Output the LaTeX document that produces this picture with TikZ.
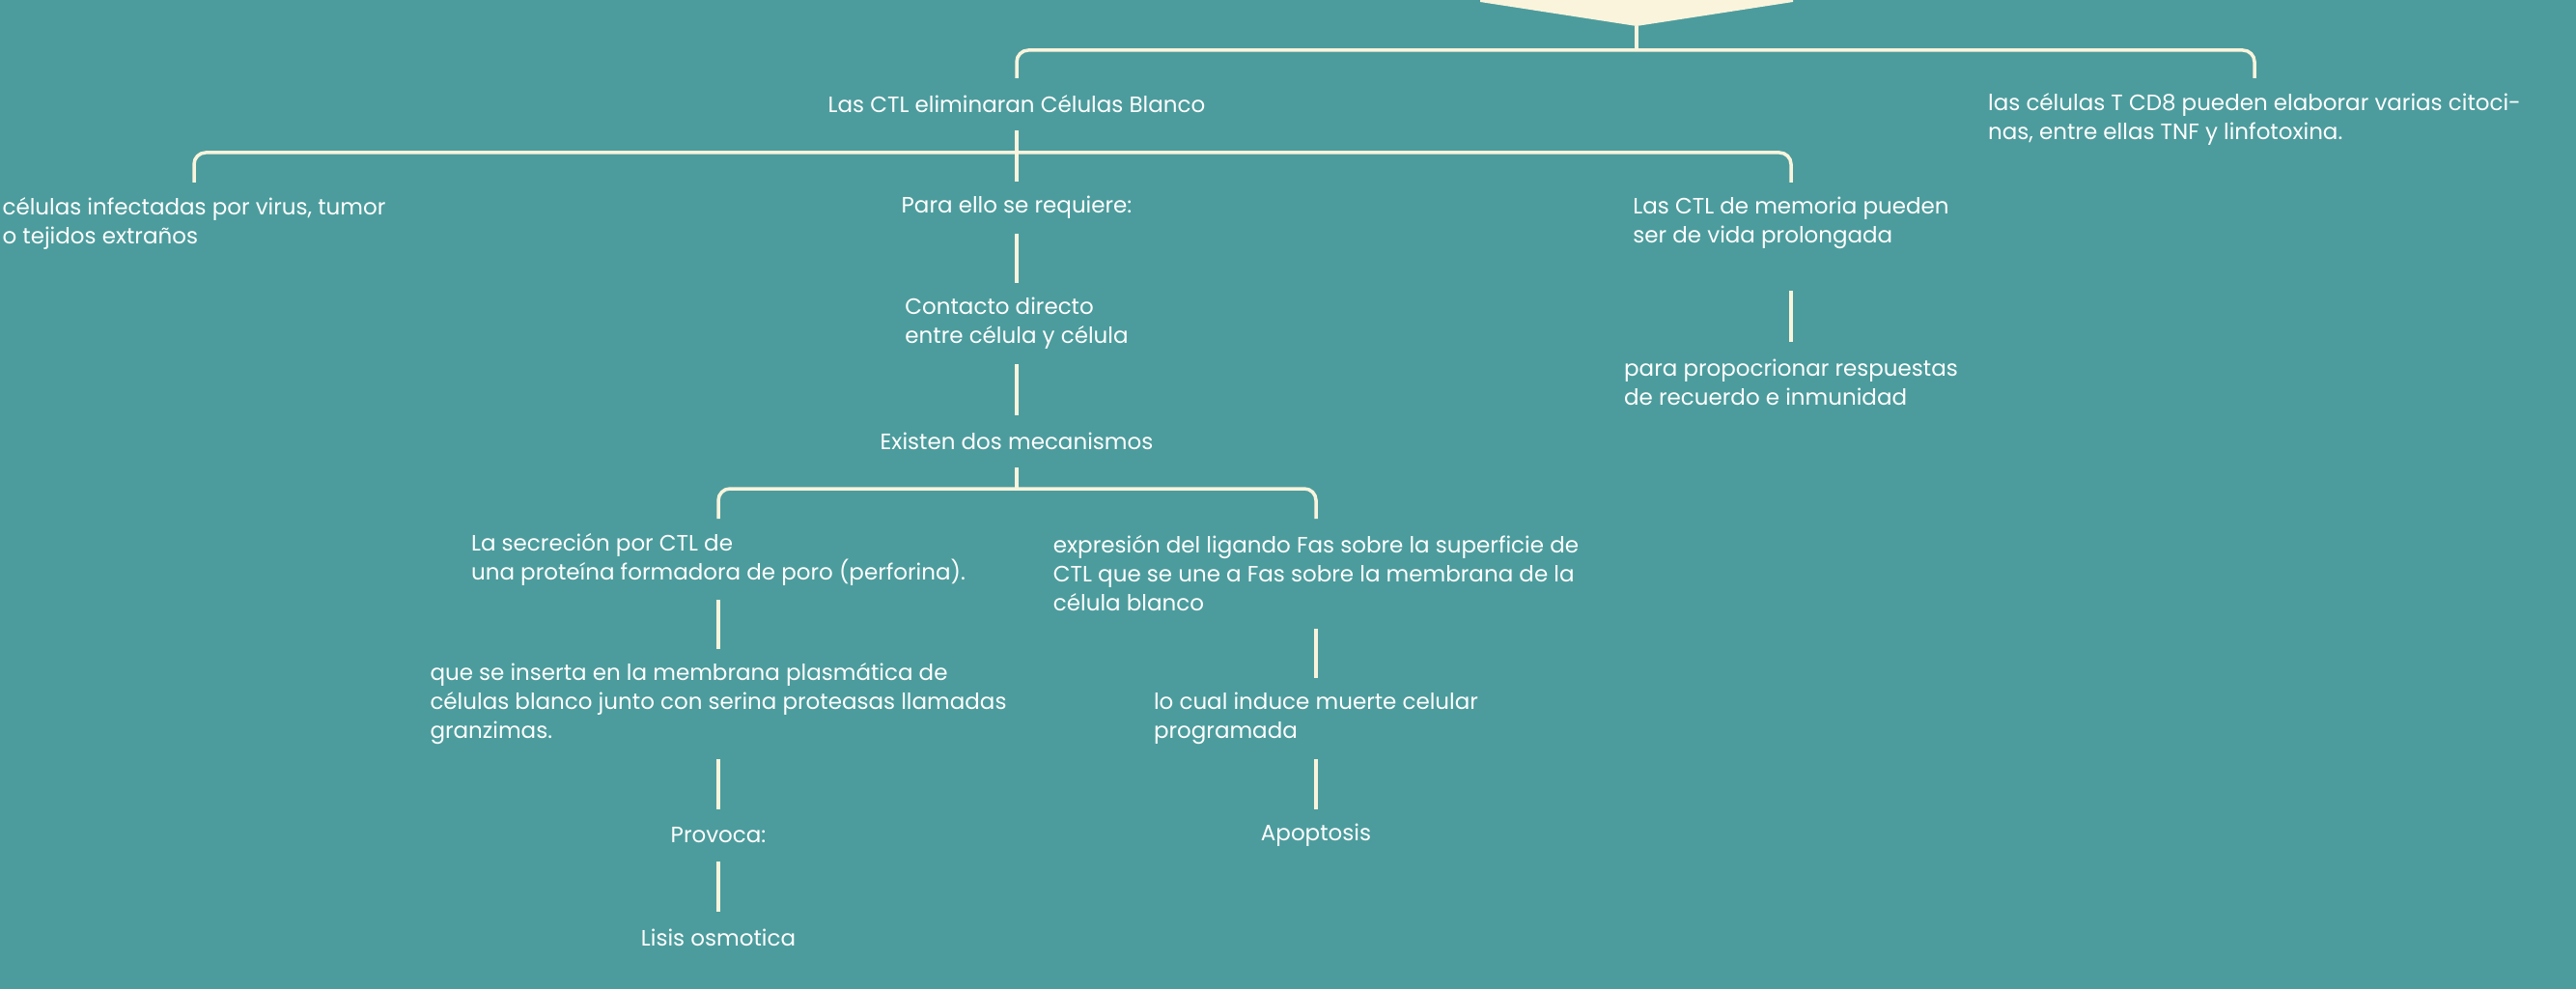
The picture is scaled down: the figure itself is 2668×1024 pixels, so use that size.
\documentclass[tikz,border=0pt]{standalone}
\usepackage{fontspec}
\setmainfont{Poppins}
\definecolor{bg}{HTML}{4C9C9D}
\definecolor{cream}{HTML}{FAF4DD}
\definecolor{txtc}{HTML}{FFFFFF}
\begin{document}
\begin{tikzpicture}[x=1pt,y=-1pt,
  txt/.style={text=txtc, font=\fontsize{23pt}{30pt}\selectfont, align=left, inner xsep=0pt, inner ysep=0pt, outer sep=0pt},
  hone/.style={txt, minimum height=54pt},
  htwo/.style={txt, minimum height=84pt},
  hthree/.style={txt, minimum height=114pt},
  conn/.style={draw=cream, line width=3.5pt},
  brace/.style={conn, rounded corners=12pt}]
\fill[bg] (0,0) rectangle (2668,1024);
\useasboundingbox (0,0) rectangle (2668,1024);
% top shape
\fill[cream] (1533,-5) -- (1533,2) -- (1695,27) -- (1857,2) -- (1857,-5) -- cycle;
\coordinate (top) at (1695,27);
\coordinate (b1) at (1695,52);
\coordinate (b2) at (1053,158);
\coordinate (b3) at (1053,506);
% nodes
\node[hone] (n1) at (1053,108) {Las CTL eliminaran Células Blanco};
\node[htwo] (n2) at (2335,123) {las células T CD8 pueden elaborar varias citoci-\\nas, entre ellas TNF y linfotoxina.};
\node[htwo] (n3) at (201,231) {células infectadas por virus, tumor\\o tejidos extraños};
\node[hone] (n4) at (1053,215) {Para ello se requiere:};
\node[htwo] (n5) at (1855,231) {Las CTL de memoria pueden\\ser de vida prolongada};
\node[htwo] (n6) at (1053,335) {Contacto directo\\entre célula y célula};
\node[htwo] (n7) at (1855,396) {para propocrionar respuestas\\de recuerdo e inmunidad};
\node[hone] (n8) at (1053,457) {Existen dos mecanismos};
\node[htwo] (n9) at (744,579) {La secreción por CTL de\\una proteína formadora de poro (perforina).};
\node[hthree] (n10) at (1363,594) {expresión del ligando Fas sobre la superficie de\\CTL que se une a Fas sobre la membrana de la\\célula blanco};
\node[hthree] (n11) at (744,729) {que se inserta en la membrana plasmática de\\células blanco junto con serina proteasas llamadas\\granzimas.};
\node[htwo] (n12) at (1363,744) {lo cual induce muerte celular\\programada};
\node[hone] (n13) at (744,865) {Provoca:};
\node[hone] (n14) at (1363,865) {Apoptosis};
\node[hone] (n15) at (744,971) {Lisis osmotica};
% connectors
\draw[conn] (top) -- (b1);
\draw[brace] (n1.north) |- (b1) -| (n2.north);
\draw[brace] (n3.north) |- (b2) -| (n5.north);
\draw[conn] (n1.south) -- (n4.north);
\draw[conn] (n4.south) -- (n6.north);
\draw[conn] (n6.south) -- (n8.north);
\draw[conn, shorten <=28pt] (n5.south) -- (n7.north);
\draw[conn] (n8.south) -- (b3);
\draw[brace] (n9.north) |- (b3) -| (n10.north);
\draw[conn] (n9.south) -- (n11.north);
\draw[conn] (n11.south) -- (n13.north);
\draw[conn] (n13.south) -- (n15.north);
\draw[conn] (n10.south) -- (n12.north);
\draw[conn] (n12.south) -- (n14.north);
\end{tikzpicture}
\end{document}
